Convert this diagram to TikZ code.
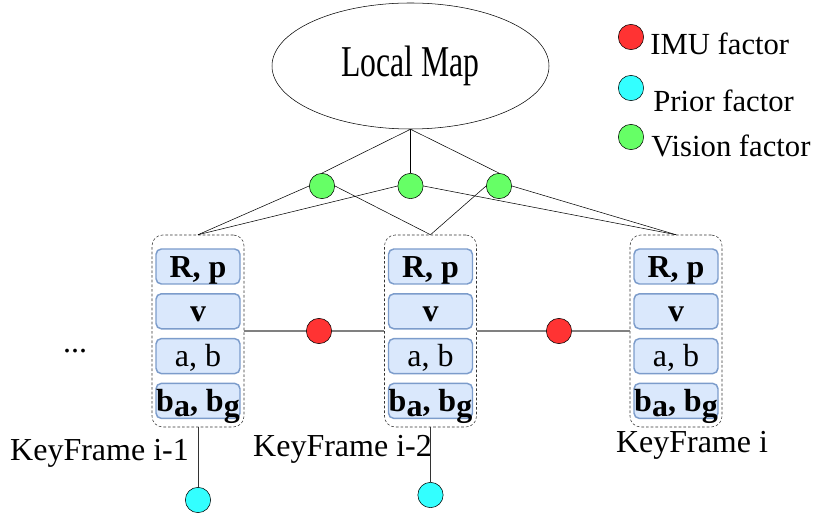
\documentclass[tikz,border=0pt]{standalone}
\usepackage{fontspec}
\setmainfont{Liberation Serif}
\usepackage{graphicx}
\usetikzlibrary{positioning,shapes.geometric}
\definecolor{varfill}{HTML}{DAE8FC}
\definecolor{vardraw}{HTML}{7C9CCB}
\definecolor{imured}{HTML}{FF3333}
\definecolor{priorcyan}{HTML}{33FFFF}
\definecolor{visiongreen}{HTML}{66FF66}
\newcommand{\lowsub}[1]{\raisebox{-3.5pt}{#1}}

\begin{document}
\begin{tikzpicture}[x=0.75pt,y=-0.75pt,semithick,
                    font=\fontsize{24}{28}\selectfont]
  \tikzstyle{frame}=[draw=black!80,dash pattern=on 2pt off 1.5pt,thin,rounded corners=8pt,
                     minimum width=69pt,minimum height=144pt,inner sep=0pt]
  \tikzstyle{var}=[draw=vardraw,fill=varfill,line width=1.1pt,rounded corners=4pt,
                   minimum width=63pt,minimum height=26.25pt,inner sep=0pt,
                   text height=16pt,text depth=0pt]
  \tikzstyle{factor}=[circle,draw=black,thin,minimum size=19pt,inner sep=0pt]
  \tikzstyle{label}=[anchor=base,inner sep=0pt]
  \tikzstyle{legend}=[anchor=base west,inner sep=0pt,font=\fontsize{23}{27}\selectfont]
  \useasboundingbox (0,0) rectangle (817,516);

  % local map
  \node[ellipse,draw,thin,minimum width=207.75pt,minimum height=94.5pt,inner sep=0pt] (m)
       at (410.5,66) {\fontsize{33}{33}\selectfont\scalebox{0.72}[1]{Local Map}};

  % keyframes
  \node[frame] (k1) at (198,331) {};
  \node[frame] (k2) at (430.5,331) {};
  \node[frame] (k3) at (676,331) {};

  \node[var] (k1a) at (198,266.5)     {\textbf{R, p}};
  \node[var] (k1b) [below=6.25pt of k1a] {\textbf{v}};
  \node[var] (k1c) [below=6.25pt of k1b] {a, b};
  \node[var] (k1d) [below=6.25pt of k1c] {\textbf{b\lowsub{a}, b\lowsub{g}}};

  \node[var] (k2a) at (430.5,266.5)   {\textbf{R, p}};
  \node[var] (k2b) [below=6.25pt of k2a] {\textbf{v}};
  \node[var] (k2c) [below=6.25pt of k2b] {a, b};
  \node[var] (k2d) [below=6.25pt of k2c] {\textbf{b\lowsub{a}, b\lowsub{g}}};

  \node[var] (k3a) at (676,266.5)     {\textbf{R, p}};
  \node[var] (k3b) [below=6.25pt of k3a] {\textbf{v}};
  \node[var] (k3c) [below=6.25pt of k3b] {a, b};
  \node[var] (k3d) [below=6.25pt of k3c] {\textbf{b\lowsub{a}, b\lowsub{g}}};

  \node[label] (l1) at (99.5,460) {KeyFrame i-1};
  \node[label] (l2) at (342.5,456) {KeyFrame i-2};
  \node[label] (l3) at (692,452)  {KeyFrame i};
  \node[label] (dots) at (75,353) {...};

  % factors
  \node[factor,fill=visiongreen] (v1) at (322,186) {};
  \node[factor,fill=visiongreen] (v2) at (410.5,186) {};
  \node[factor,fill=visiongreen] (v3) at (499,186) {};
  \node[factor,fill=imured]      (i1) at (319,331) {};
  \node[factor,fill=imured]      (i2) at (559,331) {};
  \node[factor,fill=priorcyan]   (p1) at (198,500) {};
  \node[factor,fill=priorcyan]   (p2) at (430.5,495) {};

  % legend
  \node[factor,fill=imured]      (li) at (631,37) {};
  \node[legend] (lit) at (650,55)  {IMU factor};
  \node[factor,fill=priorcyan]   (lp) at (631,88) {};
  \node[legend] (lpt) at (653,112) {Prior factor};
  \node[factor,fill=visiongreen] (lv) at (631,137) {};
  \node[legend] (lvt) at (651,157) {Vision factor};

  \path[thin]
(m.south) edge (v1.north)
(m.south) edge (v2.north)
(m.south) edge (v3.north)
(v1.west) edge (k1.north)
(v2.west) edge (k1.north)
(v1.east) edge (k2.north)
(v3.west) edge (k2.north)
(v2.east) edge (k3.north)
(v3.east) edge (k3.north)
;
  \path[draw=black!50,line width=1pt]
(k1) edge (i1)
(i1) edge (k2)
(k2) edge (i2)
(i2) edge (k3)
;
  \path[draw=black!80,thin]
(k1) edge (p1)
(k2) edge (p2)
;

\end{tikzpicture}
\end{document}
